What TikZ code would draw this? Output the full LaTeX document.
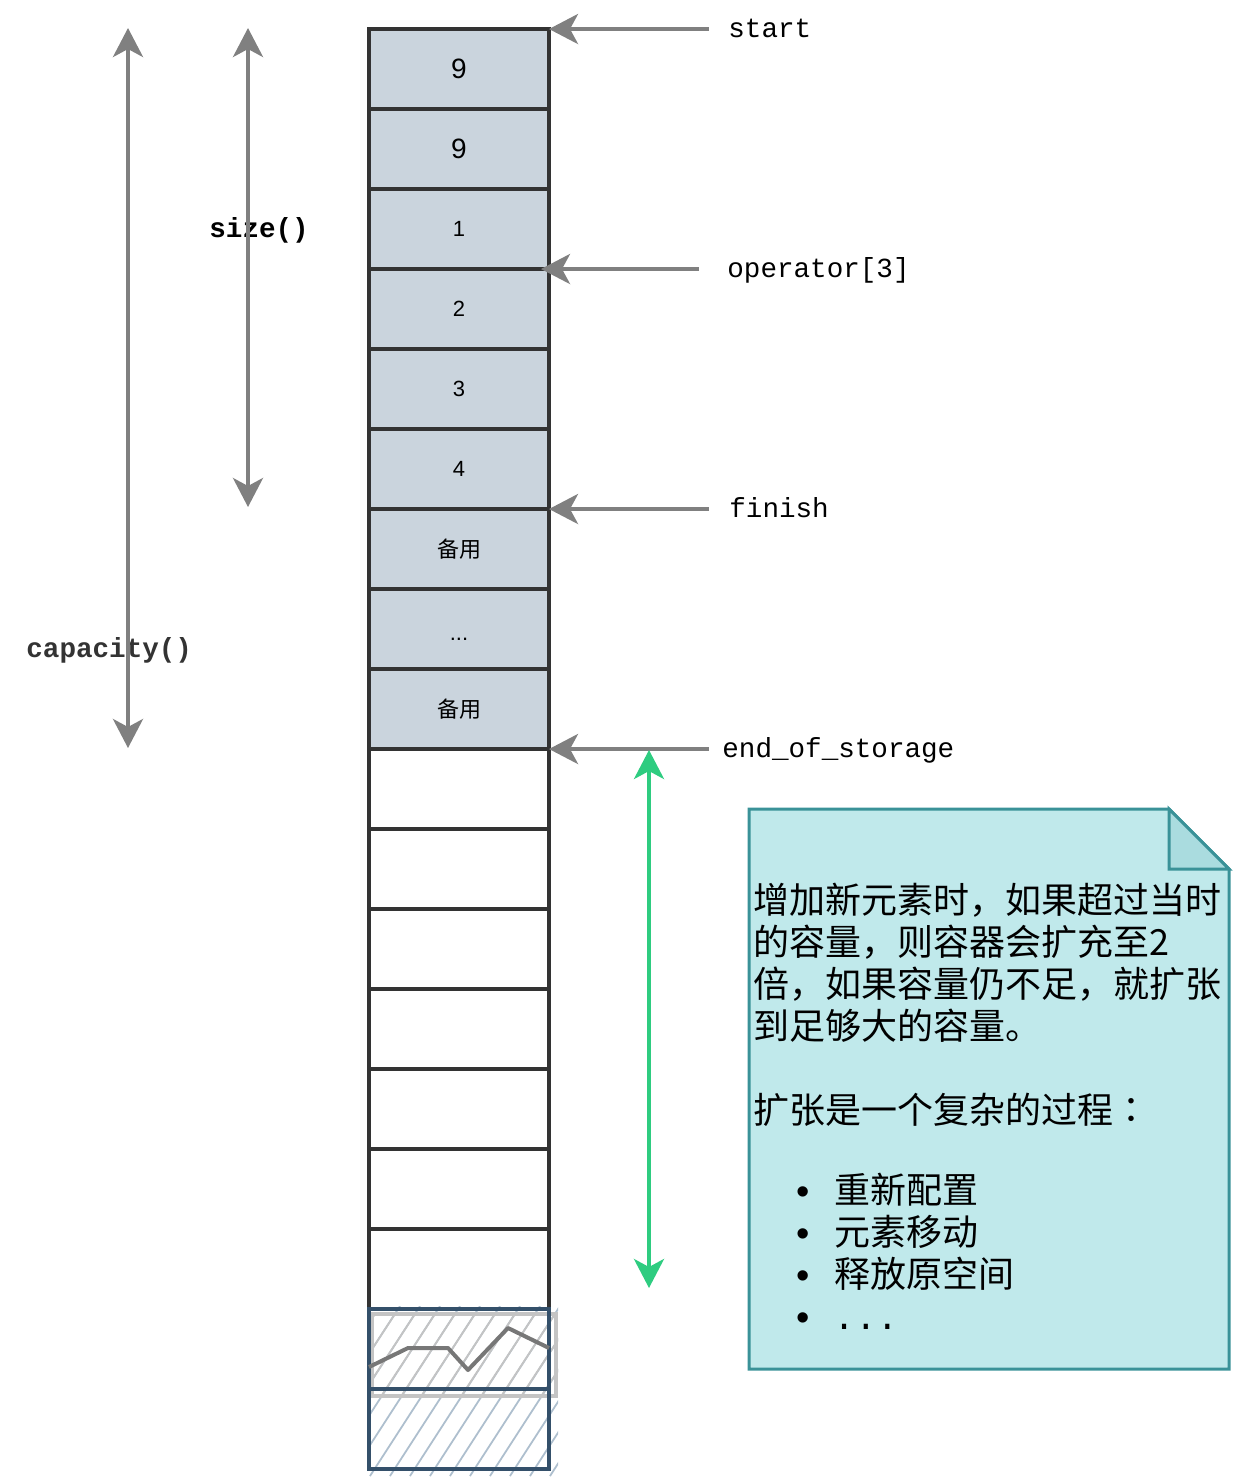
\documentclass[tikz,border=0pt]{standalone}
\usepackage{fontspec}
\setmainfont{Liberation Sans}
\setmonofont{Liberation Mono}
\newfontfamily\cjk{Noto Sans CJK SC}
\newfontfamily\cjkjp{Noto Sans CJK JP}
\usetikzlibrary{arrows.meta}
\definecolor{cellfill}{HTML}{CAD4DD}
\definecolor{cellline}{HTML}{333333}
\definecolor{ptrgray}{HTML}{808080}
\definecolor{grn}{HTML}{2ECC80}
\definecolor{notefill}{HTML}{C0E9EB}
\definecolor{notefold}{HTML}{AADCDF}
\definecolor{noteline}{HTML}{3A9298}
\definecolor{sketchblue}{HTML}{34506A}
\definecolor{hatchblue}{HTML}{AEBFCE}
\definecolor{hatchgray}{HTML}{C4C4C4}
\definecolor{chartgray}{HTML}{777777}
\definecolor{labgray}{HTML}{333333}
\begin{document}
\begin{tikzpicture}[x=0.5pt,y=-0.5pt,
  cell/.style={draw=cellline, line width=1.6pt, minimum width=90pt, minimum height=40pt,
    inner sep=0pt, outer sep=0pt, font=\fontsize{11}{13}\selectfont},
  gcell/.style={cell, fill=cellfill},
  wcell/.style={cell, fill=white},
  hcell/.style={draw=sketchblue, line width=2pt, minimum width=90pt, minimum height=40pt,
    inner sep=0pt, outer sep=0pt},
  tipa/.tip={Stealth[length=14.5pt,width=15pt,inset=4pt]},
  ptr/.style={draw=ptrgray, line width=2pt, -tipa},
  dptr/.style={draw=ptrgray, line width=2pt, tipa-tipa},
  gptr/.style={draw=grn, line width=2pt, tipa-tipa},
  mono/.style={font=\ttfamily\fontsize{13.8}{16}\selectfont, inner sep=0pt, anchor=base west},
  monob/.style={font=\ttfamily\bfseries\fontsize{13.8}{16}\selectfont, inner sep=0pt, anchor=base west},
  cjkt/.style={font=\cjk\fontsize{18}{21}\selectfont, inner sep=0pt, anchor=base west},
  bul/.style={font=\fontsize{19}{21}\selectfont, inner sep=0pt, anchor=base}
]
\useasboundingbox (0,0) rectangle (1240,1480);

% gray cells
\node[gcell, font=\fontsize{14}{16}\selectfont] (c0) at (459,69) {9};
\node[gcell, font=\fontsize{14}{16}\selectfont] (c1) at (459,149) {9};
\node[gcell] (c2) at (459,229) {1};
\node[gcell] (c3) at (459,309) {2};
\node[gcell] (c4) at (459,389) {3};
\node[gcell] (c5) at (459,469) {4};
\node[gcell] (c6) at (459,549) {\cjk 备用};
\node[gcell] (c7) at (459,629) {\raisebox{-5.5pt}[0pt][0pt]{...}};
\node[gcell] (c8) at (459,709) {\cjk 备用};
% white cells
\foreach \i in {0,...,6} \node[wcell] (w\i) at (459,789+80*\i) {};

% hatched cells
\begin{scope}
  \clip (368,1306) rectangle (558,1476);
  \foreach \k in {0,...,15} \draw[hatchblue, line width=0.9pt] (290+\k*20,1476) -- ++(110,-170);
\end{scope}
\draw[hatchgray, line width=2pt] (372,1314) rectangle (556,1396);
\begin{scope}
  \clip (372,1314) rectangle (558,1398);
  \foreach \k in {0,...,14} \draw[hatchgray, line width=0.9pt] (320+\k*20,1398) -- ++(55,-84);
\end{scope}
\node[hcell] (h1) at (459,1349) {};
\node[hcell] (h2) at (459,1429) {};
\draw[chartgray, line width=2pt, line join=round] (369,1367) -- (408,1348) -- (448,1348) -- (468,1370) -- (508,1328) -- (549,1348);

% pointer labels
\node[mono] (lstart) at (728,37.5) {start};
\node[mono] (lop) at (727,277.5) {operator[3]};
\node[mono] (lfin) at (729,517.5) {finish};
\node[mono] (leos) at (722,757.5) {end\_of\_storage};

\coordinate (pS) at (709,29);
\coordinate (pO) at (699,269);
\coordinate (pOt) at (541,269);
\coordinate (pF) at (709,509);
\coordinate (pE) at (709,749);
\draw[ptr] (pS) -- (c0.north east);
\draw[ptr] (pO) -- (pOt);
\draw[ptr] (pF) -- (c5.south east);
\draw[ptr] (pE) -- (c8.south east);

% left measures
\node[monob, text=labgray] (lcap) at (26,657.5) {capacity()};
\node[monob, text=black] (lsize) at (209,237.5) {size()};
\coordinate (capT) at (128,28);
\coordinate (capB) at (128,748);
\coordinate (sizT) at (248,28);
\coordinate (sizB) at (248,507);
\draw[dptr] (capB) -- (capT);
\draw[dptr] (sizB) -- (sizT);

% green growth arrow
\coordinate (gT) at (649,750);
\coordinate (gB) at (649,1288);
\draw[gptr] (gB) -- (gT);

% note
\draw[noteline, fill=notefill, line width=1.5pt, line join=miter]
  (749,809) -- (1169,809) -- (1229,869) -- (1229,1369) -- (749,1369) -- cycle;
\draw[noteline, fill=notefold, line width=1.5pt, line join=miter]
  (1169,809) -- (1169,869) -- (1229,869) -- cycle;

\node[cjkt] (n1) at (753,913) {增加新元素时，如果超过当时};
\node[cjkt] (n2) at (753,955) {的容量，则容器会扩充至2};
\node[cjkt] (n3) at (753,997) {倍，如果容量仍不足，就扩张};
\node[cjkt] (n4) at (753,1039) {到足够大的容量。};
\node[cjkt] (n5) at (753,1123) {扩张是一个复杂的过程{\cjkjp ：}};
\node[bul] (b1) at (803,1204) {•};
\node[bul] (b2) at (803,1246) {•};
\node[bul] (b3) at (803,1288) {•};
\node[bul] (b4) at (803,1330) {•};
\node[cjkt] (i1) at (834,1203) {重新配置};
\node[cjkt] (i2) at (834,1245) {元素移动};
\node[cjkt] (i3) at (834,1287) {释放原空间};
\node[font=\ttfamily\fontsize{18}{21}\selectfont, inner sep=0pt, anchor=base west] (i4) at (833,1329) {...};
\end{tikzpicture}
\end{document}
